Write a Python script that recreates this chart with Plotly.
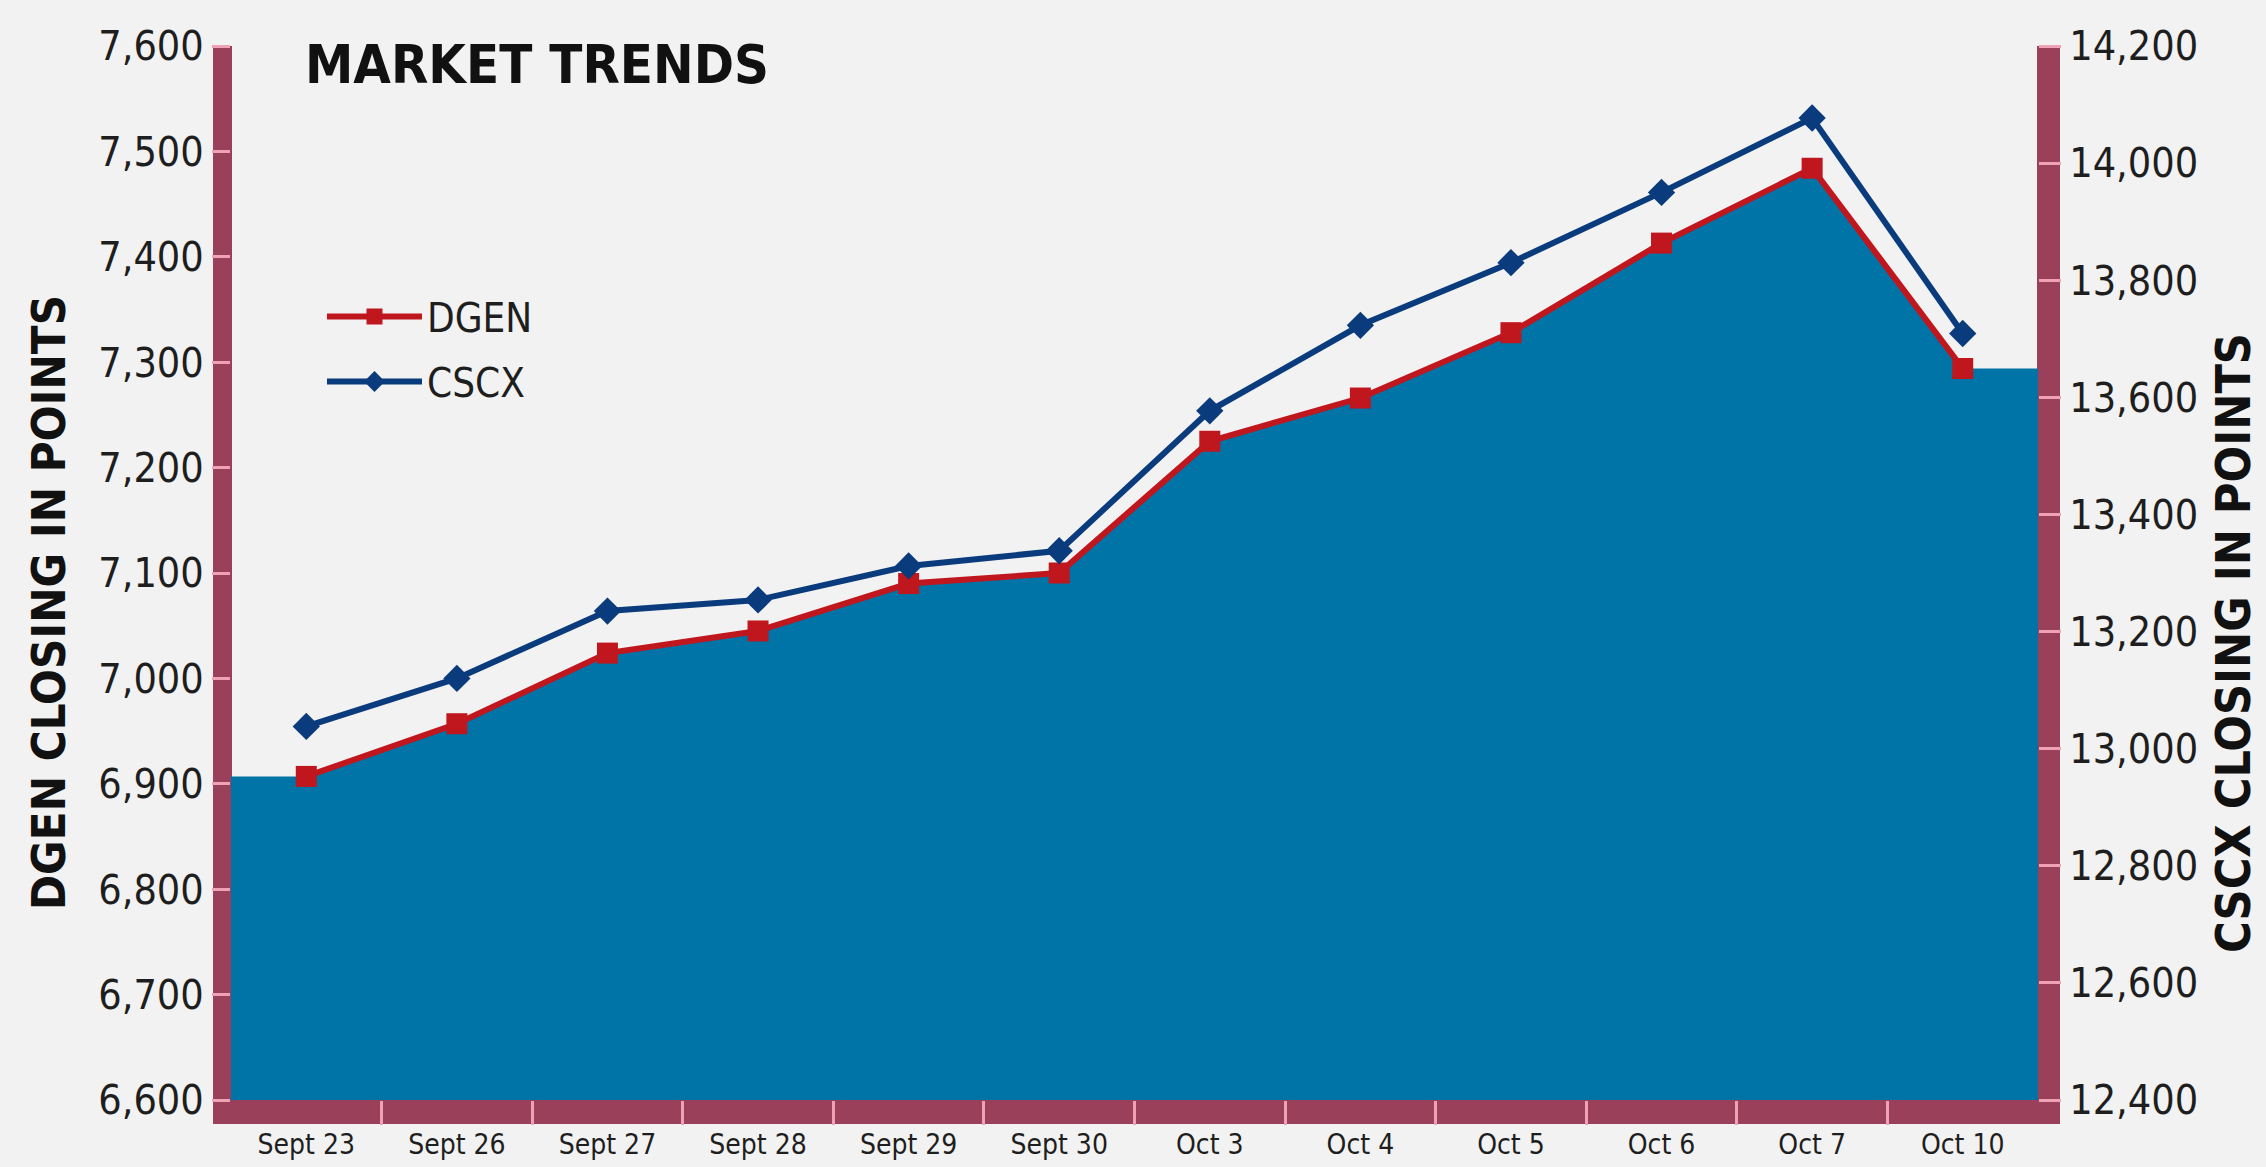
import plotly.graph_objects as go

# ---------------- data ----------------
categories = ["Sept 23", "Sept 26", "Sept 27", "Sept 28", "Sept 29", "Sept 30",
              "Oct 3", "Oct 4", "Oct 5", "Oct 6", "Oct 7", "Oct 10"]
dgen = [6907, 6957, 7024, 7045, 7090, 7100, 7225, 7266, 7328, 7413, 7484, 7294]
cscx = [13038, 13120, 13235, 13254, 13312, 13338, 13577, 13723, 13830, 13950, 14077, 13709]
dgen_ticks = [6600, 6700, 6800, 6900, 7000, 7100, 7200, 7300, 7400, 7500, 7600]
cscx_ticks = [12400, 12600, 12800, 13000, 13200, 13400, 13600, 13800, 14000, 14200]

# ---------------- layout constants ----------------
W, H = 2266, 1167
PL, PR, PT, PB = 231, 2038, 46, 1100

BG = "#f2f2f2"
BAR = "#9b405a"
TICK = "#eea2b4"
FILL = "#0074a6"
RED = "#c0161e"
BLUE = "#0a3b7c"
TXT = "#1e1e1e"
FONT = "Liberation Sans Narrow, Arial Narrow, DejaVu Sans Condensed, sans-serif"


def px2x(p):
    return (p - PL) / (PR - PL)


def py2y(p):
    return (PB - p) / (PB - PT)


idx = list(range(len(categories)))
xmin, xmax = -0.5, len(categories) - 0.5

fig = go.Figure()

# blue area following DGEN, extended flat to plot edges
fig.add_trace(go.Scatter(
    x=[xmin] + idx + [xmax],
    y=[dgen[0]] + dgen + [dgen[-1]],
    mode="lines", fill="tozeroy", fillcolor=FILL,
    line=dict(width=0, color=FILL), showlegend=False, hoverinfo="skip",
))

fig.add_trace(go.Scatter(
    x=idx, y=dgen, name="DGEN", mode="lines+markers", legendgroup="a",
    line=dict(color=RED, width=6),
    marker=dict(symbol="square", size=21, color=RED),
    yaxis="y",
))
fig.add_trace(go.Scatter(
    x=idx, y=cscx, name="CSCX", mode="lines+markers", legendgroup="b",
    line=dict(color=BLUE, width=6),
    marker=dict(symbol="diamond", size=21, color=BLUE),
    yaxis="y2",
))

# frame bars (U shape)
shapes = [
    dict(type="rect", xref="paper", yref="paper", layer="below",
         x0=px2x(213), x1=px2x(232), y0=py2y(1124), y1=py2y(46),
         fillcolor=BAR, line=dict(width=0)),
    dict(type="rect", xref="paper", yref="paper", layer="below",
         x0=px2x(2037), x1=px2x(2060), y0=py2y(1124), y1=py2y(46),
         fillcolor=BAR, line=dict(width=0)),
    dict(type="rect", xref="paper", yref="paper", layer="below",
         x0=px2x(213), x1=px2x(2060), y0=py2y(1124), y1=py2y(1099),
         fillcolor=BAR, line=dict(width=0)),
]

annotations = [
    dict(text="MARKET TRENDS", xref="paper", yref="paper",
         x=px2x(303), y=py2y(31), xanchor="left", yanchor="top", showarrow=False,
         font=dict(family=FONT, size=54, color="#111111", weight=700)),
    dict(text="DGEN CLOSING IN POINTS", xref="paper", yref="paper",
         x=px2x(48), y=py2y(603), xanchor="center", yanchor="middle", showarrow=False,
         textangle=-90,
         font=dict(family=FONT, size=47, color="#111111", weight=700)),
    dict(text="CSCX CLOSING IN POINTS", xref="paper", yref="paper",
         x=px2x(2233), y=py2y(643), xanchor="center", yanchor="middle", showarrow=False,
         textangle=-90,
         font=dict(family=FONT, size=48, color="#111111", weight=700)),
]

fig.update_layout(
    width=W, height=H,
    margin=dict(l=PL, r=W - PR, t=PT, b=H - PB, pad=0, autoexpand=False),
    paper_bgcolor=BG, plot_bgcolor=BG,
    showlegend=True,
    legend=dict(x=px2x(322), y=py2y(284), xanchor="left", yanchor="top",
                bgcolor="rgba(0,0,0,0)", font=dict(family=FONT, size=40, color=TXT),
                itemwidth=95, traceorder="grouped", tracegroupgap=10),
    xaxis=dict(
        range=[xmin, xmax], showgrid=False, zeroline=False, showline=False,
        automargin=False,
        tickmode="array", tickvals=idx, ticktext=categories,
        ticks="outside", ticklen=19, tickcolor="rgba(0,0,0,0)",
        ticklabelstandoff=0,
        tickfont=dict(family=FONT, size=28, color=TXT),
        minor=dict(tickvals=[i + 0.5 for i in idx[:-1]], ticks="outside",
                   ticklen=24, tickwidth=3, tickcolor=TICK, showgrid=False),
    ),
    yaxis=dict(
        range=[dgen_ticks[0], dgen_ticks[-1]], showgrid=False, zeroline=False,
        showline=False, automargin=False, tickmode="array", tickvals=dgen_ticks,
        ticktext=[f"{v:,}" for v in dgen_ticks],
        ticks="outside", ticklen=18, tickwidth=3, tickcolor=TICK,
        tickfont=dict(family=FONT, size=41, color=TXT),
    ),
    yaxis2=dict(
        range=[cscx_ticks[0], cscx_ticks[-1]], overlaying="y", side="right",
        showgrid=False, zeroline=False, showline=False, automargin=False,
        tickmode="array", tickvals=cscx_ticks,
        ticktext=[f"{v:,}" for v in cscx_ticks],
        ticks="outside", ticklen=22, tickwidth=3, tickcolor=TICK,
        tickfont=dict(family=FONT, size=41, color=TXT),
    ),
    shapes=shapes,
    annotations=annotations,
)

fig.write_html("out.html")
